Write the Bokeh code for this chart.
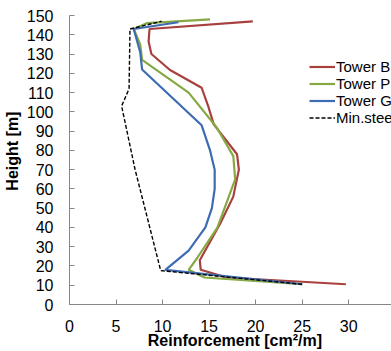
import numpy as np
from bokeh.plotting import figure
from bokeh.models import Range1d, SingleIntervalTicker, Legend, LegendItem
from bokeh.embed import file_html
from bokeh.resources import INLINE

# Reinforcement [cm²/m] vs height [m]
tower_b_x = [29.7, 16.9, 14.1, 14.0, 16.2, 17.6, 18.2, 18.0, 15.5, 14.9, 14.2, 10.8, 8.8, 8.5, 8.6, 19.7]
tower_b_h = [10.5, 14.0, 18.0, 23.0, 42.0, 56.0, 70.0, 78.0, 93.5, 103.0, 112.5, 121.7, 130.0, 136.5, 143.0, 147.0]

tower_p_x = [25.0, 14.5, 12.8, 13.7, 15.9, 17.8, 17.6, 15.8, 12.8, 7.8, 7.6, 6.9, 8.3, 15.1]
tower_p_h = [10.5, 14.0, 18.0, 24.0, 40.0, 65.0, 77.0, 92.0, 110.0, 127.0, 135.0, 143.0, 146.0, 148.0]

tower_g_x = [25.0, 10.3, 12.8, 14.6, 15.3, 15.6, 15.6, 15.1, 14.2, 7.8, 7.6, 6.9, 11.7]
tower_g_h = [10.5, 18.0, 28.0, 40.0, 50.0, 60.0, 70.0, 80.0, 93.0, 122.0, 131.0, 143.0, 146.5]

min_steel_x = [25.0, 9.8, 7.05, 5.6, 6.4, 6.5, 9.9]
min_steel_h = [10.5, 17.6, 70.0, 103.0, 112.0, 143.0, 147.0]

series_names = ["Tower B", "Tower P", "Tower G", "Min.steel"]
x_title = "\u00a0\u00a0Reinforcement [cm²/m]"
y_title = "\u00a0\u00a0\u00a0\u00a0Height [m]"

FONT = "Liberation Sans"

p = figure(width=391, height=351, output_backend="svg", toolbar_location=None,
           x_range=Range1d(0, 34.6), y_range=Range1d(0, 150),
           min_border_left=68, min_border_right=0, min_border_top=15, min_border_bottom=44)
p.outline_line_color = None
p.grid.visible = False
p.background_fill_color = "white"

for ax in (p.xaxis[0], p.yaxis[0]):
    ax.axis_line_color = "#868686"
    ax.major_tick_line_color = "#868686"
    ax.major_tick_in = 5
    ax.major_tick_out = 0
    ax.minor_tick_line_color = None
    ax.major_label_text_font = FONT
    ax.major_label_text_font_size = "16px"
    ax.major_label_text_color = "#000000"
    ax.axis_label_text_font = FONT
    ax.axis_label_text_font_size = "16px"
    ax.axis_label_text_font_style = "bold"
    ax.axis_label_text_color = "#000000"

p.xaxis.ticker = SingleIntervalTicker(interval=5)
p.yaxis.ticker = SingleIntervalTicker(interval=10)
p.xaxis.major_label_standoff = 11
p.yaxis.major_label_standoff = 12
p.xaxis.axis_label = x_title
p.yaxis.axis_label = y_title
p.xaxis.axis_label_standoff = -3
p.xaxis.axis_label_text_baseline = "alphabetic"
p.yaxis.axis_label_standoff = 3

r_b = p.line(tower_b_x, tower_b_h, line_color="#A8403D", line_width=2.2)
r_p = p.line(tower_p_x, tower_p_h, line_color="#87A944", line_width=2.2)
r_g = p.line(tower_g_x, tower_g_h, line_color="#3D6CB3", line_width=2.2)
r_m = p.line(min_steel_x, min_steel_h, line_color="#000000", line_width=1.4, line_dash="4 2")

legend = Legend(items=[LegendItem(label=n, renderers=[r]) for n, r in zip(series_names, [r_b, r_p, r_g, r_m])],
                location=(240, 178))
legend.background_fill_alpha = 0
legend.border_line_alpha = 0
legend.padding = 0
legend.margin = 0
legend.spacing = 0
legend.glyph_width = 26
legend.glyph_height = 17
legend.label_height = 17
legend.label_standoff = 1
legend.label_text_font = FONT
legend.label_text_font_size = "15px"
legend.label_text_color = "#000000"
p.add_layout(legend, "center")

open("out.html", "w").write(file_html(p, INLINE))
